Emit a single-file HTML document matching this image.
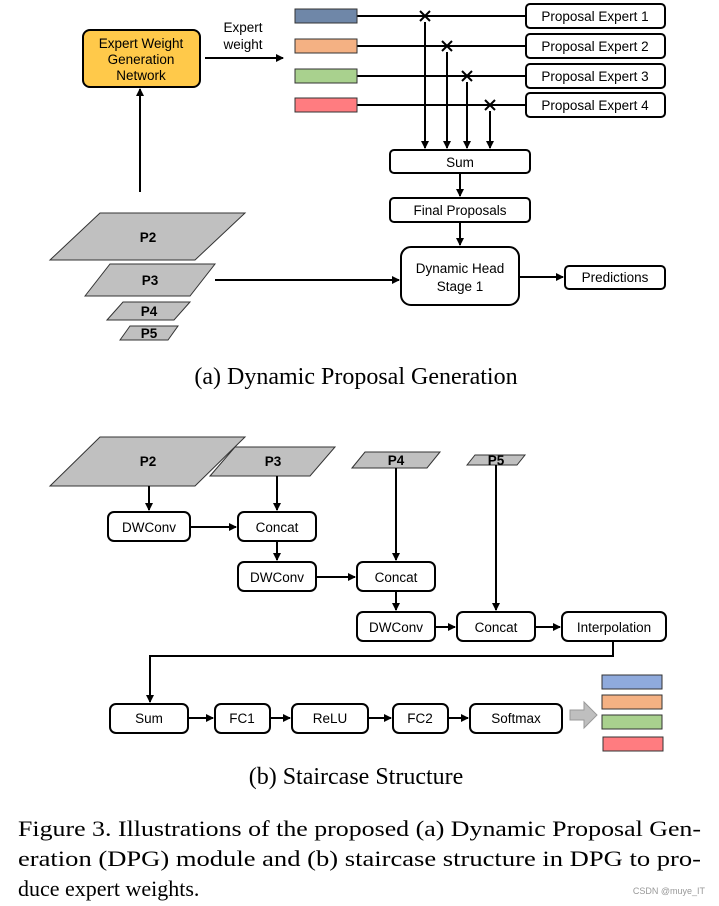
<!DOCTYPE html><html><head><style>body{margin:0;background:#fff}svg{display:block}</style></head><body>
<svg width="719" height="906" viewBox="0 0 719 906" xmlns="http://www.w3.org/2000/svg" font-family="Liberation Sans, sans-serif">
<defs><marker id="a" markerWidth="8" markerHeight="8" refX="7" refY="4" orient="auto" markerUnits="userSpaceOnUse"><path d="M0,0L8,4L0,8z" fill="#000"/></marker>
<g id="bars"><path d="M0,3l4,-4h62l0,14l-4,4z" fill="none"/></g></defs>
<g stroke="#000" stroke-width="2" fill="none">
<rect x="83" y="30" width="117" height="57" rx="7" fill="#FFC94A"/>
<line x1="140" y1="192" x2="140" y2="89" marker-end="url(#a)"/>
<line x1="205" y1="58" x2="283" y2="58" marker-end="url(#a)"/>
<line x1="357" y1="16" x2="526" y2="16"/><line x1="357" y1="46" x2="526" y2="46"/><line x1="357" y1="76" x2="526" y2="76"/><line x1="357" y1="105" x2="526" y2="105"/>
<line x1="425" y1="22" x2="425" y2="148" marker-end="url(#a)"/><line x1="447" y1="52" x2="447" y2="148" marker-end="url(#a)"/><line x1="467" y1="82" x2="467" y2="148" marker-end="url(#a)"/><line x1="490" y1="111" x2="490" y2="148" marker-end="url(#a)"/>
<path d="M420,11l10,10M430,11l-10,10M442,41l10,10M452,41l-10,10M462,71l10,10M472,71l-10,10M485,100l10,10M495,100l-10,10"/>
<rect x="526" y="4" width="139" height="24" rx="4" fill="#fff"/><rect x="526" y="34" width="139" height="24" rx="4" fill="#fff"/><rect x="526" y="64" width="139" height="24" rx="4" fill="#fff"/><rect x="526" y="93" width="139" height="24" rx="4" fill="#fff"/>
<rect x="390" y="150" width="140" height="23" rx="4"/><line x1="460" y1="173" x2="460" y2="196" marker-end="url(#a)"/>
<rect x="390" y="198" width="140" height="24" rx="4"/><line x1="460" y1="222" x2="460" y2="245" marker-end="url(#a)"/>
<rect x="401" y="247" width="118" height="58" rx="10"/><line x1="519" y1="277" x2="563" y2="277" marker-end="url(#a)"/>
<rect x="565" y="266" width="100" height="23" rx="4"/><line x1="215" y1="280" x2="399" y2="280" marker-end="url(#a)"/>
</g>
<g stroke="#333" stroke-width="1" fill="#c0c0c0">
<polygon points="50,260 100,213 245,213 195,260"/><polygon points="85,296 110,264 215,264 190,296"/><polygon points="107,320 123,302 190,302 174,320"/><polygon points="120,340 130,326 178,326 168,340"/>
<polygon points="50,486 100,437 245,437 195,486"/><polygon points="210,476 235,447 335,447 310,476"/><polygon points="352,468 365,452 440,452 427,468"/><polygon points="467,465 475,455 525,455 517,465"/>
</g>
<g stroke="#333" stroke-width="1">
<rect x="295" y="9" width="62" height="14" fill="#6f87a8"/><rect x="295" y="39" width="62" height="14" fill="#f4b183"/><rect x="295" y="69" width="62" height="14" fill="#a9d18e"/><rect x="295" y="98" width="62" height="14" fill="#ff7c80"/>
<rect x="602" y="675" width="60" height="14" fill="#8faadc"/><rect x="602" y="695" width="60" height="14" fill="#f4b183"/><rect x="602" y="715" width="60" height="14" fill="#a9d18e"/><rect x="603" y="737" width="60" height="14" fill="#ff7c80"/>
<path d="M570,710h14v-8l13,13l-13,13v-8h-14z" fill="#bfbfbf" stroke="#999"/>
</g>
<g stroke="#000" stroke-width="2" fill="none">
<line x1="149" y1="486" x2="149" y2="510" marker-end="url(#a)"/><line x1="277" y1="476" x2="277" y2="510" marker-end="url(#a)"/>
<line x1="396" y1="468" x2="396" y2="560" marker-end="url(#a)"/><line x1="496" y1="465" x2="496" y2="610" marker-end="url(#a)"/>
<rect x="108" y="512" width="82" height="29" rx="6"/><line x1="190" y1="527" x2="236" y2="527" marker-end="url(#a)"/>
<rect x="238" y="512" width="78" height="29" rx="6"/><line x1="277" y1="541" x2="277" y2="560" marker-end="url(#a)"/>
<rect x="238" y="562" width="78" height="29" rx="6"/><line x1="316" y1="577" x2="355" y2="577" marker-end="url(#a)"/>
<rect x="357" y="562" width="78" height="29" rx="6"/><line x1="396" y1="591" x2="396" y2="610" marker-end="url(#a)"/>
<rect x="357" y="612" width="78" height="29" rx="6"/><line x1="435" y1="627" x2="455" y2="627" marker-end="url(#a)"/>
<rect x="457" y="612" width="78" height="29" rx="6"/><line x1="535" y1="627" x2="560" y2="627" marker-end="url(#a)"/>
<rect x="562" y="612" width="104" height="29" rx="6"/>
<path d="M613,641v15H150v46" marker-end="url(#a)"/>
<rect x="110" y="704" width="78" height="29" rx="6"/><line x1="188" y1="718" x2="213" y2="718" marker-end="url(#a)"/>
<rect x="215" y="704" width="55" height="29" rx="6"/><line x1="270" y1="718" x2="290" y2="718" marker-end="url(#a)"/>
<rect x="292" y="704" width="76" height="29" rx="6"/><line x1="368" y1="718" x2="391" y2="718" marker-end="url(#a)"/>
<rect x="393" y="704" width="55" height="29" rx="6"/><line x1="448" y1="718" x2="468" y2="718" marker-end="url(#a)"/>
<rect x="470" y="704" width="92" height="29" rx="6"/>
</g>
<g font-size="13.5" text-anchor="middle" fill="#000">
<text x="141" y="48">Expert Weight</text><text x="141" y="64">Generation</text><text x="141" y="80">Network</text>
<text x="243" y="32">Expert</text><text x="243" y="49">weight</text>
<text x="595" y="21">Proposal Expert 1</text><text x="595" y="51">Proposal Expert 2</text><text x="595" y="81">Proposal Expert 3</text><text x="595" y="110">Proposal Expert 4</text>
<text x="460" y="167">Sum</text><text x="460" y="215">Final Proposals</text><text x="460" y="273">Dynamic Head</text><text x="460" y="291">Stage 1</text><text x="615" y="282">Predictions</text>
<g font-weight="bold"><text x="148" y="242">P2</text><text x="150" y="285">P3</text><text x="149" y="316">P4</text><text x="149" y="338">P5</text>
<text x="148" y="466">P2</text><text x="273" y="466">P3</text><text x="396" y="465">P4</text><text x="496" y="465">P5</text></g>
<text x="149" y="532">DWConv</text><text x="277" y="532">Concat</text><text x="277" y="582">DWConv</text><text x="396" y="582">Concat</text><text x="396" y="632">DWConv</text><text x="496" y="632">Concat</text><text x="614" y="632">Interpolation</text>
<text x="149" y="723">Sum</text><text x="242" y="723">FC1</text><text x="330" y="723">ReLU</text><text x="420" y="723">FC2</text><text x="516" y="723">Softmax</text>
</g>
<g font-family="Liberation Serif, serif" font-size="24" fill="#000">
<text x="356" y="384" text-anchor="middle">(a) Dynamic Proposal Generation</text>
<text x="356" y="784" text-anchor="middle">(b) Staircase Structure</text>
<g font-size="22"><text x="18" y="836" textLength="683" lengthAdjust="spacingAndGlyphs">Figure 3. Illustrations of the proposed (a) Dynamic Proposal Gen-</text>
<text x="18" y="866" textLength="683" lengthAdjust="spacingAndGlyphs">eration (DPG) module and (b) staircase structure in DPG to pro-</text>
<text x="18" y="896">duce expert weights.</text></g>
</g>
<text x="705" y="894" font-size="9" fill="#999" text-anchor="end">CSDN @muye_IT</text>
</svg></body></html>
